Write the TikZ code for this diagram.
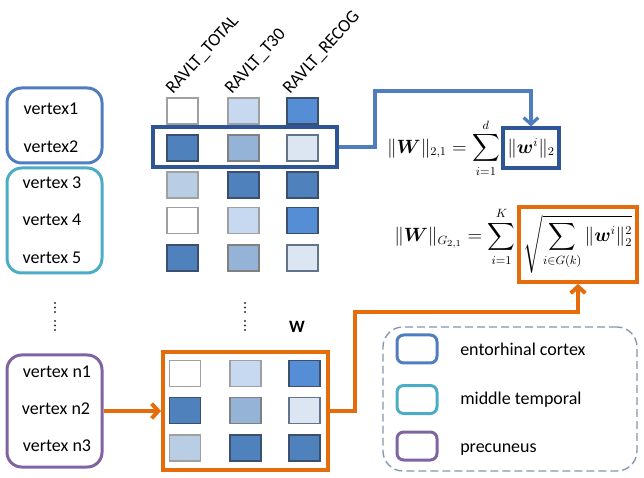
\documentclass[tikz,border=0pt]{standalone}
\usepackage{amsmath}
\usepackage{fontspec}
\setmainfont{Carlito}
\usetikzlibrary{arrows.meta,fit,calc}
\definecolor{ecblue}{RGB}{79,125,192}
\definecolor{mtcyan}{RGB}{75,172,198}
\definecolor{prpurple}{RGB}{128,100,162}
\definecolor{dkblue}{RGB}{47,85,151}
\definecolor{orng}{RGB}{228,108,10}
\definecolor{c1}{RGB}{198,217,241}
\definecolor{c2}{RGB}{85,142,213}
\definecolor{c3}{RGB}{79,129,189}
\definecolor{c4}{RGB}{149,179,215}
\definecolor{c5}{RGB}{220,230,242}
\definecolor{c6}{RGB}{185,205,229}
\definecolor{lgnd}{RGB}{132,151,176}
\definecolor{sqgray}{RGB}{160,160,160}
\definecolor{sqdark}{RGB}{60,80,110}
\begin{document}
\begin{tikzpicture}[x=0.75pt,y=-0.75pt,
  font=\fontsize{13.5}{16}\selectfont,
  sq/.style={line width=0.9pt,minimum width=23.25pt,minimum height=19.5pt,inner sep=0pt},
  f0/.style={sq,fill=white,draw=sqgray},
  f1/.style={sq,fill=c1,draw=sqgray},
  f2/.style={sq,fill=c2,draw=sqdark},
  f3/.style={sq,fill=c3,draw=sqdark},
  f4/.style={sq,fill=c4,draw=sqgray!80!black},
  f5/.style={sq,fill=c5,draw=sqdark!80},
  f6/.style={sq,fill=c6,draw=sqgray},
  vbox/.style={rounded corners=11pt,line width=2.25pt,inner sep=0pt},
  lab/.style={anchor=base,inner sep=0pt},
  legsq/.style={rounded corners=5pt,line width=2.25pt,minimum width=30pt,minimum height=21pt,inner sep=0pt},
  legtxt/.style={anchor=base west,inner sep=0pt},
  collab/.style={anchor=base west,inner sep=0pt,rotate=48},
  barb/.style={-{Straight Barb[length=5pt,width=11pt]}},
]
\useasboundingbox (0,0) rectangle (644,478);

% vertex group boxes
\node[vbox,draw=ecblue,fit={(7,88) (102,163)}] (g1) {};
\node[vbox,draw=mtcyan,fit={(7,168) (102,273)}] (g2) {};
\node[vbox,draw=prpurple,fit={(7,355) (102,467)}] (g3) {};

\node[lab] (v1) at (51,115) {vertex1};
\node[lab] (v2) at (51,153) {vertex2};
\node[lab] (v3) at (52,189) {vertex 3};
\node[lab] (v4) at (52,226) {vertex 4};
\node[lab] (v5) at (52,263) {vertex 5};
\node[lab] (vn1) at (57,378) {vertex n1};
\node[lab] (vn2) at (56,414) {vertex n2};
\node[lab] (vn3) at (57,451) {vertex n3};

% column labels
\node[collab] (cl1) at (173,95) {RAVLT\_TOTAL};
\node[collab] (cl2) at (232,95) {RAVLT\_T30};
\node[collab] (cl3) at (290,95) {RAVLT\_RECOG};

% top matrix
\foreach \r/\y/\a/\b/\c in {1/111/f0/f1/f2, 2/148/f3/f4/f5, 3/185/f6/f3/f3, 4/220.5/f0/f1/f2, 5/258/f3/f4/f5}{
  \node[\a] (t\r a) at (182.5,\y) {};
  \node[\b] (t\r b) at (243.5,\y) {};
  \node[\c] (t\r c) at (302.5,\y) {};
}
\node[draw=dkblue,line width=2.6pt,inner sep=0pt,fit={(153,127) (337,167)}] (hl) {};

% dots
\foreach \x in {55,245}{
  \foreach \yy in {303,307.5,312,321,325.5,330}{
    \fill[black!80] (\x,\yy) circle (0.9pt);
  }
}
\node[lab,font=\fontsize{13}{15}\selectfont\bfseries] (W) at (297,333) {W};

% bottom matrix
\node[draw=orng,line width=3pt,inner sep=0pt,fit={(163,352) (328,470)}] (ob) {};
\foreach \r/\y/\a/\b/\c in {1/373.5/f0/f1/f2, 2/410.5/f3/f4/f5, 3/448/f6/f3/f3}{
  \node[\a] (b\r a) at (185,\y) {};
  \node[\b] (b\r b) at (245.5,\y) {};
  \node[\c] (b\r c) at (304.5,\y) {};
}

% formulas
\node[draw=dkblue,line width=2.4pt,minimum width=42pt,minimum height=30pt,inner sep=0pt] (f1box) at (531,148) {$\|\boldsymbol{w}^i\|_2$};
\node[anchor=base east,inner sep=1pt] (f1) at (f1box.base west) {$\|\boldsymbol{W}\|_{2,1} = \displaystyle\sum_{i=1}^{d}$};

\node[draw=orng,line width=3pt,minimum width=88.5pt,minimum height=56pt,inner sep=0pt] (f2box) at (578,244.5) {$\sqrt{\displaystyle\sum_{i\in G(k)} \|\boldsymbol{w}^i\|_2^2}$};
\node[anchor=base east,inner sep=1pt] (f2) at (f2box.base west) {$\|\boldsymbol{W}\|_{G_{2,1}} = \displaystyle\sum_{i=1}^{K}$};

% connectors
\draw[barb,draw=ecblue,line width=2.4pt] (hl.east) -| (375,91) -| (f1box.north);
\draw[barb,draw=orng,line width=3pt] (g3.east) -- (ob.west);
\draw[barb,draw=orng,line width=3pt] (ob.east) -| (355,312) -| (f2box.south);

% legend
\node[draw=lgnd,dash pattern=on 6pt off 3pt,line width=1pt,rounded corners=15pt,inner sep=0pt,fit={(383,327) (637,471)}] (leg) {};
\node[legsq,draw=ecblue] (l1) at (417,349) {};
\node[legsq,draw=mtcyan] (l2) at (417,399.5) {};
\node[legsq,draw=prpurple] (l3) at (417,446) {};
\node[legtxt] (l1t) at (460,355) {entorhinal cortex};
\node[legtxt] (l2t) at (460,404) {middle temporal};
\node[legtxt] (l3t) at (460,452) {precuneus};
\end{tikzpicture}
\end{document}
